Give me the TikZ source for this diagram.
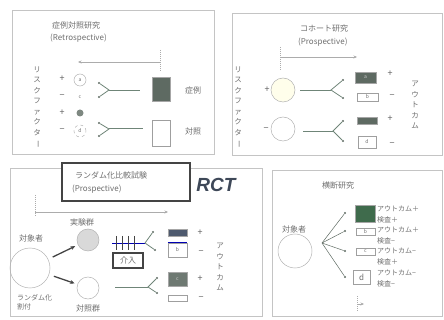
\documentclass[tikz,border=0pt]{standalone}
\usepackage{fontspec}
\setmainfont{Noto Sans CJK JP}
\newfontfamily\rctfont{Liberation Sans}
\usetikzlibrary{arrows.meta}
\definecolor{txt}{HTML}{6E6E6E}
\definecolor{frm}{HTML}{C4C4C4}
\definecolor{ln}{HTML}{6F8578}
\definecolor{dk}{HTML}{5E6A62}
\definecolor{dkg}{HTML}{3F6B4C}
\definecolor{dkb}{HTML}{4E5A6E}
\definecolor{frame2}{HTML}{444444}
\newcommand{\vbar}{\rotatebox[origin=c]{-90}{ー}}
\begin{document}
\begin{tikzpicture}[x=1pt,y=-1pt,
  panel/.style={draw=frm, line width=0.7pt},
  lbl/.style={text=txt, font=\fontsize{8}{9.5}\selectfont, inner sep=0},
  xl/.style={text=txt, font=\fontsize{7}{8}\selectfont, inner sep=0, anchor=west},
  sgn/.style={text=txt!85!black, font=\fontsize{9}{10}\selectfont, inner sep=0},
  sml/.style={text=txt, font=\fontsize{5}{6}\selectfont, inner sep=0},
  vert/.style={text=txt, font=\fontsize{7.5}{10.5}\selectfont, align=center, inner sep=0},
  dotn/.style={circle, fill=dk, inner sep=0, minimum size=2.4pt},
  fork/.style={draw=ln, line width=0.8pt},
  timeline/.style={draw=gray!65, line width=0.5pt, -{Stealth[length=3.5pt,width=3pt]}},
  tickl/.style={draw=gray!65, line width=0.5pt, dash pattern=on 1pt off 1pt},
  fbox/.style={draw=gray!70, fill=dk, inner sep=0, line width=0.4pt},
  obox/.style={draw=gray!75, fill=white, inner sep=0, line width=0.5pt, text=txt, font=\fontsize{5}{6}\selectfont},
  thickbox/.style={draw=frame2, line width=1.6pt, fill=white, inner sep=0},
  bigarrow/.style={draw=frame2, line width=1.3pt, -{Stealth[length=4.5pt,width=4pt]}},
  ring/.style={circle, draw=gray!60, line width=0.5pt, inner sep=0}
]
\useasboundingbox (0,0) rectangle (444,320);

% ---------- Panel 1: case-control ----------
\draw[panel] (12,10) rectangle (214,154);
\node[lbl, anchor=west] (t1) at (52,25) {症例対照研究};
\node[lbl, anchor=west] (t1e) at (50,38) {(Retrospective)};
\coordinate (p1top) at (160,50);
\coordinate (p1bot) at (160,72);
\coordinate (p1mid) at (160,62);
\coordinate (p1end) at (78,62);
\draw[tickl] (p1top) -- (p1bot);
\draw[timeline] (p1mid) -- (p1end);
\node[vert] (rf1) at (37,107) {リ\\ス\\ク\\フ\\ァ\\ク\\タ\\\vbar};
\node[sgn] (s1a) at (62,79) {+};
\node[sgn] (s1b) at (62,97) {−};
\node[sgn] (s1c) at (62,113) {+};
\node[sgn] (s1d) at (62,131) {−};
\node[ring, minimum size=12pt, sml] (ca) at (80,80) {a};
\node[sml] (cc) at (80,97) {c};
\node[circle, fill=dk!80, inner sep=0, minimum size=7pt] (cb) at (80,113) {};
\node[ring, dashed, minimum size=12pt, sml] (cd) at (80,131) {d};
\node[dotn] (f1a) at (99,83) {};
\node[dotn] (f1b) at (99,97) {};
\coordinate (j1) at (109,90);
\coordinate (e1) at (140,90);
\draw[fork] (f1a) -- (j1) -- (f1b);
\draw[fork] (j1) -- (e1);
\node[dotn] (f2a) at (99,123) {};
\node[dotn] (f2b) at (99,136) {};
\coordinate (j2) at (109,129);
\coordinate (e2) at (143,129);
\draw[fork] (f2a) -- (j2) -- (f2b);
\draw[fork, line width=1pt] (j2) -- (e2);
\node[fbox, minimum width=18pt, minimum height=24pt] (casebox) at (161,89) {};
\node[obox, minimum width=18pt, minimum height=26pt] (ctrlbox) at (161,133) {};
\node[lbl] (case) at (193,90) {症例};
\node[lbl] (ctrl) at (193,131) {対照};

% ---------- Panel 2: cohort ----------
\draw[panel] (232,13) rectangle (442,155);
\node[lbl, anchor=west] (t2) at (300,28) {コホート研究};
\node[lbl, anchor=west] (t2e) at (298,42) {(Prospective)};
\coordinate (p2top) at (280,47);
\coordinate (p2bot) at (280,70);
\coordinate (p2mid) at (280,57);
\coordinate (p2end) at (357,57);
\draw[tickl] (p2top) -- (p2bot);
\draw[timeline] (p2mid) -- (p2end);
\node[vert] (rf2) at (238,107) {リ\\ス\\ク\\フ\\ァ\\ク\\タ\\\vbar};
\node[sgn] (s2p) at (267,90) {+};
\node[sgn] (s2m) at (266,130) {−};
\node[ring, minimum size=24pt, fill=yellow!8] (co1) at (283,90) {};
\node[ring, minimum size=24pt] (co2) at (283,129) {};
\coordinate (l2a) at (300,90);
\coordinate (j3) at (331,90);
\node[dotn] (f3a) at (343,80) {};
\node[dotn] (f3b) at (343,98) {};
\draw[fork] (l2a) -- (j3);
\draw[fork] (f3a) -- (j3) -- (f3b);
\coordinate (l2b) at (303,131);
\coordinate (j4) at (333,131);
\node[dotn] (f4a) at (343,121) {};
\node[dotn] (f4b) at (343,141) {};
\draw[fork] (l2b) -- (j4);
\draw[fork] (f4a) -- (j4) -- (f4b);
\node[fbox, minimum width=21pt, minimum height=11pt, text=gray!40, font=\fontsize{5}{6}\selectfont] (cba) at (365.5,77.5) {a};
\node[obox, minimum width=21pt, minimum height=8pt] (cbb) at (367.5,97) {b};
\node[fbox, minimum width=20pt, minimum height=7pt] (cbc) at (367,120.5) {};
\node[obox, minimum width=18pt, minimum height=12pt] (cbd) at (367,142) {d};
\node[sgn] (o2a) at (390,74) {+};
\node[sgn] (o2b) at (392,97) {−};
\node[sgn] (o2c) at (390,119) {+};
\node[sgn] (o2d) at (392,145) {−};
\node[vert] (out2) at (415,105) {ア\\ウ\\ト\\カ\\ム};

% ---------- Panel 3: RCT ----------
\draw[panel] (10,168) rectangle (262,316);
\node[thickbox, minimum width=128pt, minimum height=38pt] (rctbox) at (126,182) {};
\node[lbl, anchor=west] (t3) at (75,175) {ランダム化比較試験};
\node[lbl, anchor=west] (t3e) at (72,189) {(Prospective)};
\node[text=dkb!80!black, font=\rctfont\bfseries\itshape\fontsize{19}{20}\selectfont, inner sep=0] (rct) at (216,185) {RCT};
\coordinate (p3top) at (35,195);
\coordinate (p3bot) at (35,216);
\coordinate (p3mid) at (35,212);
\coordinate (p3end) at (168,212);
\draw[tickl] (p3top) -- (p3bot);
\draw[timeline] (p3mid) -- (p3end);
\node[lbl] (exlab) at (82,222) {実験群};
\node[ring, minimum size=22pt, fill=gray!30] (exp) at (88,240) {};
\node[lbl] (sublab) at (31,238) {対象者};
\node[ring, minimum size=40pt] (subj) at (30,268) {};
\node[lbl, align=left, anchor=west, font=\fontsize{7}{9}\selectfont] (rand) at (17,302) {ランダム化\\割付};
\node[ring, minimum size=22pt] (ctl) at (88,288) {};
\node[lbl] (ctllab) at (88,308) {対照群};
\draw[bigarrow, shorten <=5pt, shorten >=3pt] (subj) -- (exp);
\draw[bigarrow, shorten <=5pt, shorten >=3pt] (subj) -- (ctl);
\coordinate (hl1) at (112,243);
\coordinate (j5) at (145,243);
\draw[draw=blue!70!black, line width=0.8pt] (hl1) -- (j5);
\foreach \xx [count=\i] in {116,122,128,134} {
  \coordinate (tk\i a) at (\xx,236);
  \coordinate (tk\i b) at (\xx,250);
  \draw[draw=frame2, line width=0.6pt] (tk\i a) -- (tk\i b);
}
\node[dotn] (f5a) at (153,232) {};
\node[dotn] (f5b) at (155,250) {};
\draw[fork] (f5a) -- (j5) -- (f5b);
\node[thickbox, minimum width=30pt, minimum height=15pt, text=txt, font=\fontsize{8}{9}\selectfont] (interv) at (128,260.5) {介入};
\coordinate (l3b) at (115,287);
\coordinate (j6) at (148,287);
\node[dotn] (f6a) at (157,278) {};
\node[dotn] (f6b) at (157,293) {};
\draw[fork] (l3b) -- (j6);
\draw[fork] (f6a) -- (j6) -- (f6b);
\node[fbox, fill=dkb, minimum width=19pt, minimum height=7pt] (rba) at (177.5,232.5) {};
\node[obox, minimum width=19pt, minimum height=14pt] (rbb) at (177.5,250) {b};
\draw[draw=blue!70!black, line width=0.6pt] (rbb.north west) -- (rbb.north east);
\node[fbox, fill=dk!90, minimum width=19pt, minimum height=14pt, text=gray!40, font=\fontsize{5}{6}\selectfont] (rbc) at (177.5,279) {c};
\node[obox, minimum width=19pt, minimum height=6pt] (rbd) at (177.5,298) {};
\node[sgn] (o3a) at (200,233) {+};
\node[sgn] (o3b) at (201,253) {−};
\node[sgn] (o3c) at (200,279) {+};
\node[sgn] (o3d) at (201,299) {−};
\node[vert] (out3) at (220,267) {ア\\ウ\\ト\\カ\\ム};

% ---------- Panel 4: cross-sectional ----------
\draw[panel] (272,170) rectangle (442,316);
\node[lbl] (t4) at (338,185) {横断研究};
\node[lbl] (sub4) at (294,229) {対象者};
\node[ring, minimum size=34pt] (subj4) at (295,251) {};
\coordinate (j7) at (322,243);
\node[dotn] (f7a) at (345,213) {};
\node[dotn] (f7b) at (345,231) {};
\node[dotn] (f7c) at (345,251) {};
\node[dotn] (f7d) at (345,277) {};
\draw[draw=dk, line width=0.5pt] (j7) -- (f7a);
\draw[draw=dk, line width=0.5pt] (j7) -- (f7b);
\draw[draw=dk, line width=0.5pt] (j7) -- (f7c);
\draw[draw=dk, line width=0.5pt] (j7) -- (f7d);
\node[fbox, fill=dkg, minimum width=20pt, minimum height=17pt] (xba) at (365,213.5) {};
\node[obox, minimum width=19pt, minimum height=7pt] (xbb) at (365.5,231.5) {b};
\node[obox, minimum width=19pt, minimum height=7pt] (xbc) at (365.5,251.5) {c};
\node[obox, minimum width=17pt, minimum height=14pt, font=\fontsize{8}{9}\selectfont] (xbd) at (361.5,277) {d};
\node[xl] (x1a) at (377,208.5) {アウトカム＋};
\node[xl] (x1b) at (377,219.5) {検査＋};
\node[xl] (x2a) at (377,229.5) {アウトカム＋};
\node[xl] (x2b) at (377,240.5) {検査−};
\node[xl] (x3a) at (377,250.5) {アウトカム−};
\node[xl] (x3b) at (377,261.5) {検査＋};
\node[xl] (x4a) at (377,272.5) {アウトカム−};
\node[xl] (x4b) at (377,283.5) {検査−};
\coordinate (p4top) at (357,296);
\coordinate (p4bot) at (357,312);
\coordinate (p4mid) at (357,304);
\coordinate (p4end) at (364,304);
\draw[tickl] (p4top) -- (p4bot);
\draw[timeline] (p4mid) -- (p4end);
\end{tikzpicture}
\end{document}
